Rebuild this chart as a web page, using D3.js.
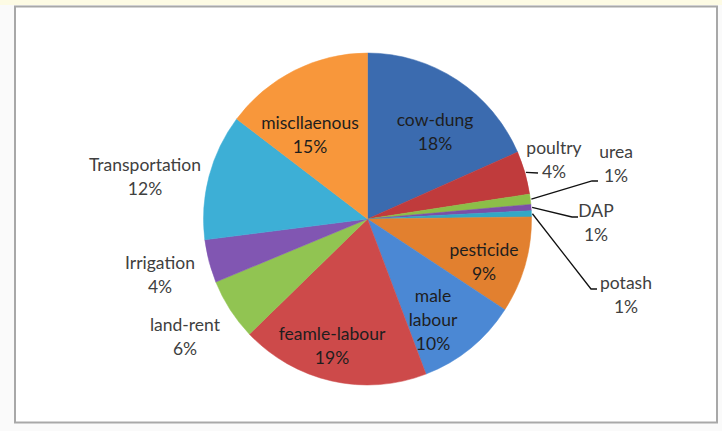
<!DOCTYPE html>
<html>
<head>
<meta charset="utf-8">
<script src="https://cdn.jsdelivr.net/npm/d3@7"></script>
<style>
  body { margin: 0; background: #fafafa; }
  svg { display: block; }
  text { font-family: Lato, "Open Sans", sans-serif; font-size: 17.5px; }
</style>
</head>
<body>
<svg id="chart" width="722" height="431"></svg>
<script>
// slices, clockwise from 12 o'clock (shares in %)
var categories = ['cow-dung', 'poultry', 'urea', 'DAP', 'potash', 'pesticide',
  'male labour', 'feamle-labour', 'land-rent', 'Irrigation', 'Transportation', 'miscllaenous'];
var shares = [18.4, 4.2, 1.0, 0.6, 0.6, 9.4, 10.0, 18.6, 6.0, 4.2, 12.3, 14.7];
var colors = ['#3b6baf', '#c03b3c', '#8cbe48', '#7b4fa8', '#33a7c5', '#e2802f',
  '#4b88d4', '#cd4a4a', '#91c452', '#8156b2', '#3dafd6', '#f8973b'];

// label placement (centre of first line), line breaks, leader line ends
var labelAt = [[435, 120], [554, 148], [616, 152], [596, 211], [626, 283], [484, 250],
  [433, 296], [332, 334], [185, 325], [160, 263], [145, 165], [310, 123]];
var labelLines = [null, null, null, null, null, null, ['male', 'labour'], null, null, null, null, null];
var inside = [true, false, false, false, false, true, true, true, false, false, false, true];
var leaderEnd = {1: [[538, 173]], 2: [[592, 181], [598, 181]], 3: [[572, 217], [578, 217]], 4: [[591, 289], [597, 289]]};

var svg = d3.select('#chart');
var cx = 367.5, cy = 219, r = 164, sy = 166 / 164;

// frame
svg.append('rect').attr('x', 0).attr('y', 0).attr('width', 722).attr('height', 5).attr('fill', '#fdfbe4');
svg.append('rect').attr('x', 15).attr('y', 6.5).attr('width', 702).attr('height', 416)
  .attr('fill', '#ffffff').attr('stroke', '#a8a8a8').attr('stroke-width', 2);

var pie = d3.pie().sort(null).value(function(d) { return d; });
var arcs = pie(shares);
var arc = d3.arc().innerRadius(0).outerRadius(r);

var g = svg.append('g').attr('transform', 'translate(' + cx + ',' + cy + ') scale(1,' + sy + ')');
g.selectAll('path.slice')
  .data(arcs)
  .enter().append('path')
  .attr('class', 'slice')
  .attr('d', arc)
  .attr('fill', function(d, i) { return colors[i]; })
  .attr('stroke', function(d, i) { return colors[i]; })
  .attr('stroke-width', 0.5);

// leader lines from the rim at mid angle
var line = d3.line();
Object.keys(leaderEnd).forEach(function(k) {
  var a = arcs[k];
  var mid = (a.startAngle + a.endAngle) / 2;
  var start = [cx + Math.sin(mid) * (r + 1), cy - Math.cos(mid) * (r + 1) * sy];
  svg.append('path')
    .attr('d', line([start].concat(leaderEnd[k])))
    .attr('fill', 'none')
    .attr('stroke', '#111')
    .attr('stroke-width', 1.3);
});

// labels
categories.forEach(function(name, i) {
  var lines = (labelLines[i] || [name]).concat([Math.round(shares[i]) + '%']);
  var t = svg.append('text')
    .attr('text-anchor', 'middle')
    .attr('fill', inside[i] ? '#1e1e1e' : '#404040');
  lines.forEach(function(s, j) {
    t.append('tspan')
      .attr('x', labelAt[i][0])
      .attr('y', labelAt[i][1] + 6 + j * 24)
      .text(s);
  });
});
</script>
</body>
</html>
